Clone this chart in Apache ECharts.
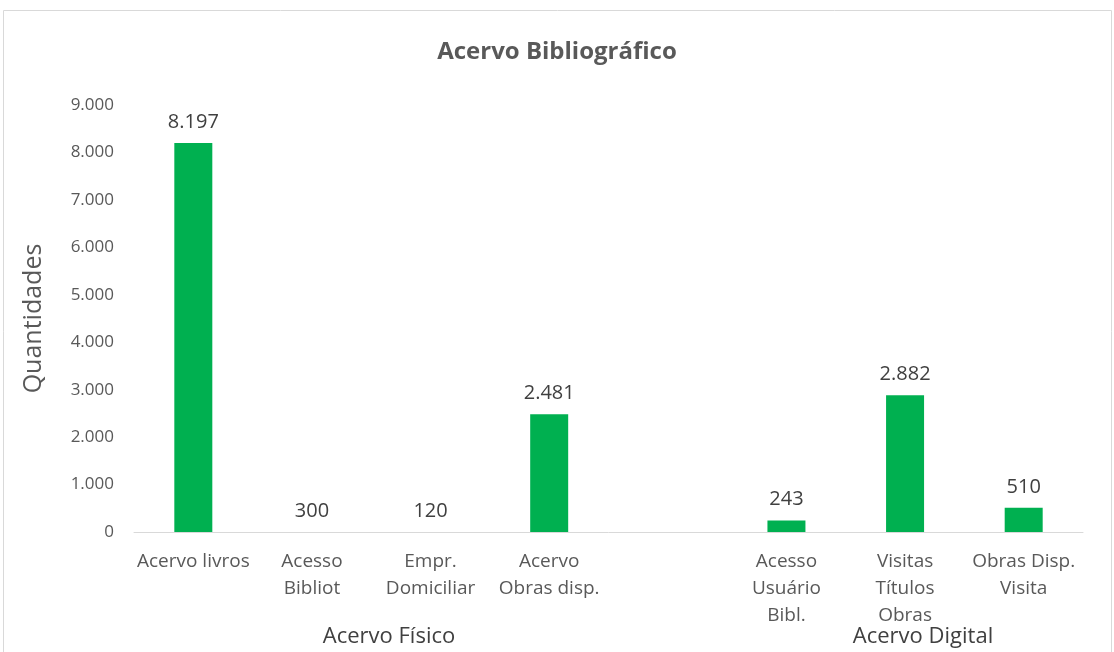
<!DOCTYPE html>
<html>
<head>
<meta charset="utf-8">
<script src="https://cdn.jsdelivr.net/npm/echarts@6/dist/echarts.min.js"></script>
<style>
  html, body { margin: 0; padding: 0; background: #fff; }
  #chart { width: 1114px; height: 652px; }
</style>
</head>
<body>
<div id="chart"></div>
<script>
// categorias (a posição vazia separa os dois grupos)
const categorias = [
  'Acervo livros', 'Acesso\nBibliot', 'Empr.\nDomiciliar', 'Acervo\nObras disp.',
  '', 'Acesso\nUsuário\nBibl.', 'Visitas\nTítulos\nObras', 'Obras Disp.\nVisita'
]
// valores mostrados nos rótulos
const rotulos = [8197, 300, 120, 2481, null, 243, 2882, 510]
// altura das barras (300 e 120 aparecem sem barra no original)
const valores = [8197, 0, 0, 2481, null, 243, 2882, 510]
const grupos = ['Acervo Físico', 'Acervo Digital']
const yTicks = [0, 1000, 2000, 3000, 4000, 5000, 6000, 7000, 8000, 9000]

const fmt = v => v.toLocaleString('pt-BR')
const font = '"Open Sans", sans-serif'

const mychart = echarts.init(document.getElementById('chart'))
const option = {
  animation: false,
  textStyle: { fontFamily: font },
  title: {
    text: 'Acervo Bibliográfico',
    left: 'center',
    top: 35,
    textStyle: { fontSize: 24, fontWeight: 'bold', color: '#595959', fontFamily: font }
  },
  grid: { left: 134, right: 31, top: 105, bottom: 120 },
  xAxis: {
    type: 'category',
    data: categorias,
    axisTick: { show: false },
    axisLine: { lineStyle: { color: '#d9d9d9' } },
    axisLabel: {
      interval: 0,
      margin: 16,
      fontSize: 19,
      lineHeight: 27,
      color: '#595959'
    }
  },
  yAxis: {
    type: 'value',
    min: yTicks[0],
    max: yTicks[yTicks.length - 1],
    interval: 1000,
    name: 'Quantidades',
    nameLocation: 'middle',
    nameGap: 88,
    nameTextStyle: { fontSize: 25, color: '#595959' },
    splitLine: { show: false },
    axisLine: { show: false },
    axisTick: { show: false },
    axisLabel: { fontSize: 17, color: '#595959', margin: 20, formatter: fmt }
  },
  series: [{
    type: 'bar',
    barWidth: 38,
    itemStyle: { color: '#00b050' },
    data: valores.map((v, i) => ({ value: v, rotulo: rotulos[i] })),
    label: {
      show: true,
      position: 'top',
      distance: 11,
      fontSize: 20,
      color: '#404040',
      formatter: p => p.data.rotulo == null ? '' : fmt(p.data.rotulo)
    }
  }],
  graphic: [
    {
      type: 'rect',
      shape: { x: 3.5, y: 10.5, width: 1108, height: 660 },
      style: { fill: null, stroke: '#d9d9d9', lineWidth: 1 },
      silent: true
    },
    {
      type: 'text', x: 389, y: 637,
      style: { text: grupos[0], fontSize: 22, fill: '#404040', fontFamily: font, align: 'center', verticalAlign: 'middle' }
    },
    {
      type: 'text', x: 923, y: 637,
      style: { text: grupos[1], fontSize: 22, fill: '#404040', fontFamily: font, align: 'center', verticalAlign: 'middle' }
    }
  ]
}
mychart.setOption(option)
</script>
</body>
</html>
